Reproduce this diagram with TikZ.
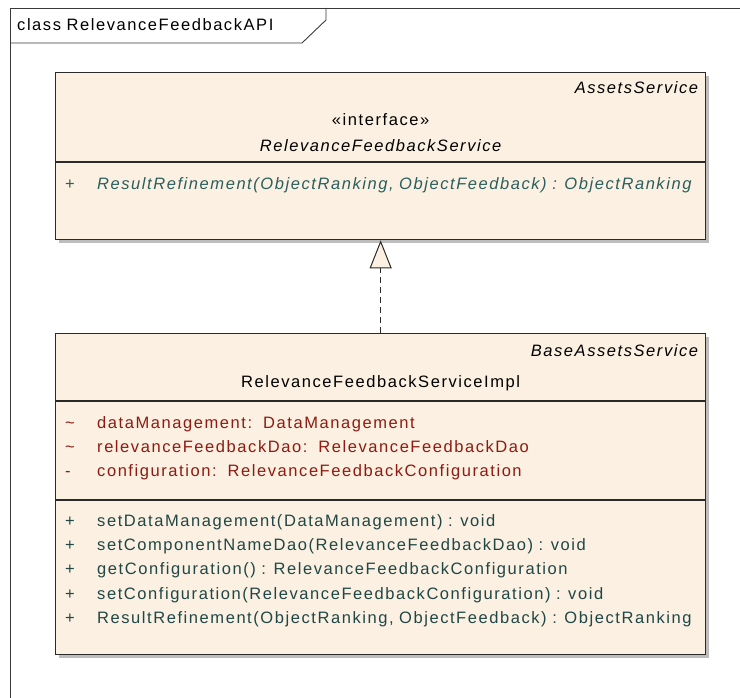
\documentclass[tikz,border=0pt]{standalone}
\usepackage{fontspec}
\setmainfont{Liberation Sans}[LetterSpace=9.5, WordSpace=0.9]
\usetikzlibrary{positioning, arrows.meta, calc, shadows}
\definecolor{umlfill}{HTML}{FBF0E1}
\definecolor{umlborder}{HTML}{2A2A2A}
\definecolor{umlshadow}{HTML}{BDBDBD}
\definecolor{umlattr}{HTML}{8E1B12}
\definecolor{umlop}{HTML}{1F4747}
\definecolor{umlabstract}{HTML}{2A5F5F}
\definecolor{umlframe}{HTML}{3A3A3A}

\begin{document}
\begin{tikzpicture}[
  x=1pt, y=-1pt,
  classbox/.style={
    rectangle, draw=umlborder, line width=1.3pt, fill=umlfill,
    minimum width=650pt, inner sep=0pt, anchor=north west,
    drop shadow={shadow xshift=3.5pt, shadow yshift=-3.5pt,
                 fill=umlshadow, opacity=1}
  },
  sep/.style={draw=umlborder, line width=1.1pt},
  txt/.style={font=\fontsize{16.5}{19}\selectfont, inner sep=0pt, anchor=base west},
  attr/.style={txt, text=umlattr},
  op/.style={txt, text=umlop},
  realize/.style={dash pattern=on 6pt off 4pt, line width=1pt,
    draw=umlborder,
    -{Triangle[length=28pt, width=22pt, fill=umlfill, line width=1pt]}},
]
\useasboundingbox (0,0) rectangle (740,698);

% --- Frame ---
\draw[umlframe, line width=0.9pt] (10,698) -- (10,8) -- (740,8);
\draw[umlframe, line width=0.9pt] (10,43) -- (302,43) -- (326,20) -- (326,8);
\node[txt] (frametitle) at (17,31) {class RelevanceFeedbackAPI};

% --- Interface ---
\node[classbox, minimum height=167pt] (iface) at (55,72) {};
\draw[sep] ($(iface.north west)+(0,90)$) -- ($(iface.north east)+(0,90)$);
\node[txt, anchor=base east] (ifacens) at ($(iface.north east)+(-8,22)$)
  {\itshape AssetsService};
\node[txt, anchor=base] (ifacestereo) at ($(iface.north)+(0,54)$)
  {\guillemotleft interface\guillemotright};
\node[txt, anchor=base] (ifacename) at ($(iface.north)+(0,80)$)
  {\itshape RelevanceFeedbackService};
\node[txt, text=umlabstract] (ifaceop) at ($(iface.north west)+(10,118)$)
  {\makebox[32pt][l]{+}\itshape ResultRefinement(ObjectRanking, ObjectFeedback) : ObjectRanking};

% --- Implementation ---
\node[classbox, minimum height=321pt] (impl) at (55,333) {};
\draw[sep] ($(impl.north west)+(0,68)$) -- ($(impl.north east)+(0,68)$);
\draw[sep] ($(impl.north west)+(0,167)$) -- ($(impl.north east)+(0,167)$);
\node[txt, anchor=base east] (implns) at ($(impl.north east)+(-8,23)$)
  {\itshape BaseAssetsService};
\node[txt, anchor=base] (implname) at ($(impl.north)+(0,54)$)
  {RelevanceFeedbackServiceImpl};

% attributes
\node[attr] (attrdm) at ($(impl.north west)+(10,95)$)
  {\makebox[32pt][l]{\textasciitilde}dataManagement:\ \ DataManagement};
\node[attr] (attrdao) at ($(impl.north west)+(10,119)$)
  {\makebox[32pt][l]{\textasciitilde}relevanceFeedbackDao:\ \ RelevanceFeedbackDao};
\node[attr] (attrconf) at ($(impl.north west)+(10,143)$)
  {\makebox[32pt][l]{-}configuration:\ \ RelevanceFeedbackConfiguration};

% operations
\node[op] (opsetdm) at ($(impl.north west)+(10,193)$)
  {\makebox[32pt][l]{+}setDataManagement(DataManagement) : void};
\node[op] (opsetdao) at ($(impl.north west)+(10,217)$)
  {\makebox[32pt][l]{+}setComponentNameDao(RelevanceFeedbackDao) : void};
\node[op] (opgetconf) at ($(impl.north west)+(10,241)$)
  {\makebox[32pt][l]{+}getConfiguration() : RelevanceFeedbackConfiguration};
\node[op] (opsetconf) at ($(impl.north west)+(10,266)$)
  {\makebox[32pt][l]{+}setConfiguration(RelevanceFeedbackConfiguration) : void};
\node[op] (oprefine) at ($(impl.north west)+(10,290)$)
  {\makebox[32pt][l]{+}ResultRefinement(ObjectRanking, ObjectFeedback) : ObjectRanking};

% --- Realization ---
\draw[realize] (impl.north) -- (iface.south);

\end{tikzpicture}
\end{document}
